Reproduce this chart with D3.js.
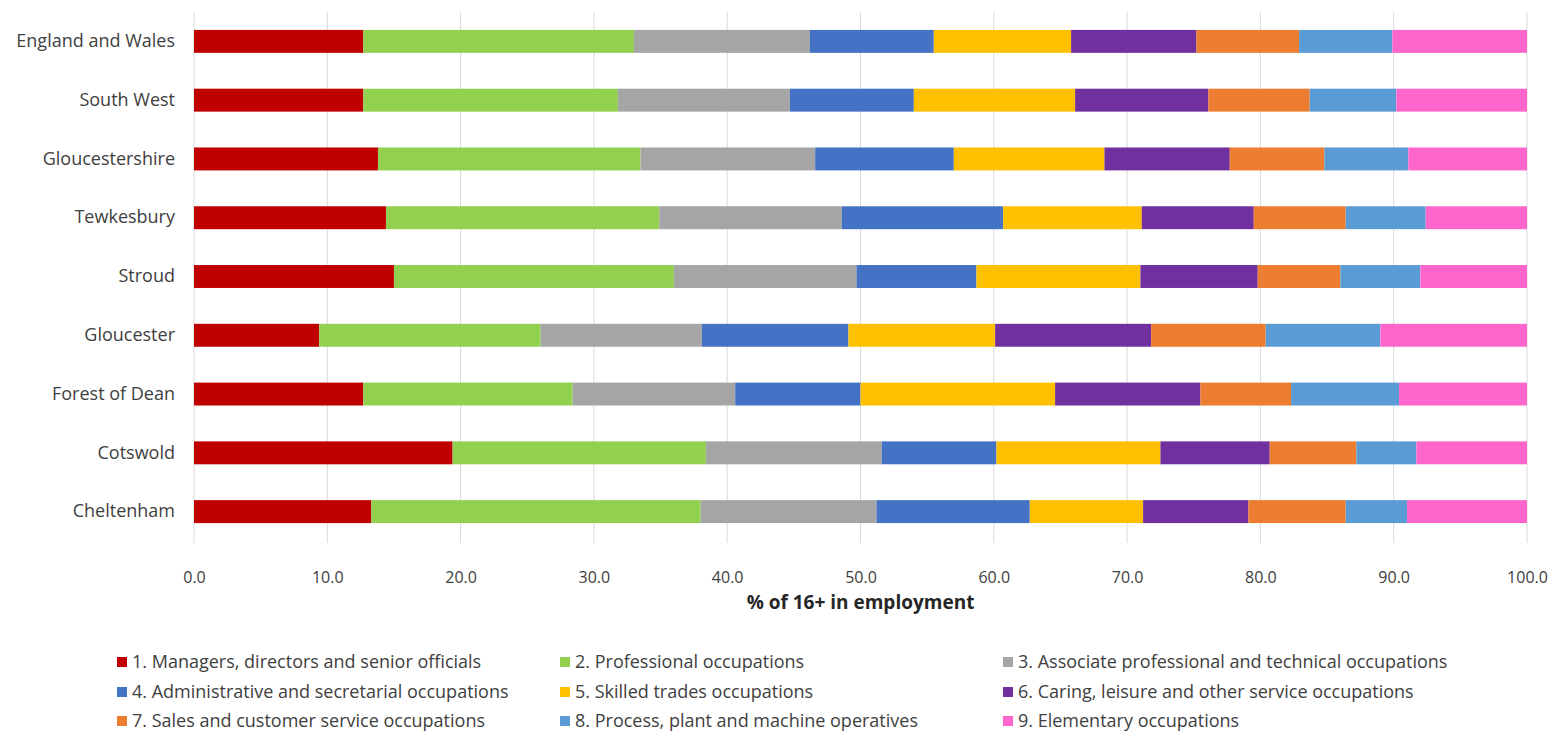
<!DOCTYPE html>
<html>
<head>
<meta charset="utf-8">
<script src="https://cdn.jsdelivr.net/npm/d3@7"></script>
<style>
  html, body { margin: 0; padding: 0; background: #fff; }
  svg { display: block; }
  text { font-family: "Open Sans", "Liberation Sans", sans-serif; }
</style>
</head>
<body>
<svg id="chart" width="1558" height="751"></svg>
<script>
const categories = ["England and Wales", "South West", "Gloucestershire", "Tewkesbury", "Stroud", "Gloucester", "Forest of Dean", "Cotswold", "Cheltenham"];
const seriesNames = [
  "1. Managers, directors and senior officials",
  "2. Professional occupations",
  "3. Associate professional and technical occupations",
  "4. Administrative and secretarial occupations",
  "5. Skilled trades occupations",
  "6. Caring, leisure and other service occupations",
  "7. Sales and customer service occupations",
  "8. Process, plant and machine operatives",
  "9. Elementary occupations"
];
const seriesColors = ["#C00000", "#92D050", "#A5A5A5", "#4472C4", "#FFC000", "#7030A0", "#ED7D31", "#5B9BD5", "#FF66CC"];
// values per category, in series order
const managers      = [12.7, 12.7, 13.8, 14.4, 15.0,  9.4, 12.7, 19.4, 13.3];
const professional  = [20.3, 19.1, 19.7, 20.5, 21.0, 16.6, 15.7, 19.0, 24.7];
const associate     = [13.2, 12.9, 13.1, 13.7, 13.7, 12.1, 12.2, 13.2, 13.2];
const administrative= [ 9.3,  9.3, 10.4, 12.1,  9.0, 11.0,  9.4,  8.6, 11.5];
const skilled       = [10.3, 12.1, 11.3, 10.4, 12.3, 11.0, 14.6, 12.3,  8.5];
const caring        = [ 9.4, 10.0,  9.4,  8.4,  8.8, 11.7, 10.9,  8.2,  7.9];
const sales         = [ 7.7,  7.6,  7.1,  6.9,  6.2,  8.6,  6.8,  6.5,  7.3];
const process       = [ 7.0,  6.5,  6.3,  6.0,  6.0,  8.6,  8.1,  4.5,  4.6];
const elementary    = [10.1,  9.8,  8.9,  7.6,  8.0, 11.0,  9.6,  8.3,  9.0];
const xTicks = [0, 10, 20, 30, 40, 50, 60, 70, 80, 90, 100];
const xTitle = "% of 16+ in employment";

const seriesValues = [managers, professional, associate, administrative, skilled, caring, sales, process, elementary];
const rows = categories.map((c, i) => {
  const r = { category: c };
  seriesNames.forEach((s, j) => { r[s] = seriesValues[j][i]; });
  return r;
});

const svg = d3.select("#chart");
const plotLeft = 194, plotRight = 1527, plotTop = 12, plotBottom = 543;

const x = d3.scaleLinear().domain([0, 100]).range([plotLeft, plotRight]);
const y = d3.scaleBand().domain(categories).range([plotTop, 541]).paddingInner(0.61).paddingOuter(0.305);

// gridlines
svg.append("g").selectAll("line").data(xTicks).join("line")
  .attr("x1", d => x(d)).attr("x2", d => x(d))
  .attr("y1", plotTop).attr("y2", plotBottom)
  .attr("stroke", "#d9d9d9").attr("stroke-width", 1);

const stack = d3.stack().keys(seriesNames)(rows);
svg.append("g").selectAll("g").data(stack).join("g")
  .attr("fill", (d, i) => seriesColors[i])
  .selectAll("rect").data(d => d).join("rect")
  .attr("x", d => x(d[0]))
  .attr("width", d => x(d[1]) - x(d[0]))
  .attr("y", d => y(d.data.category))
  .attr("height", y.bandwidth());

// x axis labels
const xAxis = d3.axisBottom(x).tickValues(xTicks).tickFormat(d3.format(".1f")).tickSize(0).tickPadding(0);
const gx = svg.append("g").attr("transform", `translate(0, ${plotBottom + 34})`).call(xAxis);
gx.select(".domain").remove();
gx.selectAll("text").attr("font-size", 16).attr("fill", "#404040")
  .style("font-family", '"Open Sans", sans-serif').attr("dy", "0.35em").attr("y", 0);

// y axis labels
const yAxis = d3.axisLeft(y).tickSize(0).tickPadding(0);
const gy = svg.append("g").attr("transform", `translate(${plotLeft - 19}, 0)`).call(yAxis);
gy.select(".domain").remove();
gy.selectAll("text").attr("font-size", 18).attr("fill", "#404040")
  .style("font-family", '"Open Sans", sans-serif');

// axis title
svg.append("text").attr("x", (plotLeft + plotRight) / 2).attr("y", 602).attr("dy", "0.35em")
  .attr("text-anchor", "middle").attr("font-size", 19).attr("font-weight", "bold")
  .attr("fill", "#262626").text(xTitle);

// legend
const legCols = [117, 560, 1003];
const legRows = [662, 692, 721];
const leg = svg.append("g").selectAll("g").data(seriesNames).join("g")
  .attr("transform", (d, i) => `translate(${legCols[i % 3]}, ${legRows[Math.floor(i / 3)]})`);
leg.append("rect").attr("x", 0).attr("y", -5).attr("width", 10).attr("height", 10)
  .attr("fill", (d, i) => seriesColors[i]);
leg.append("text").attr("x", 15).attr("y", 0).attr("dy", "0.35em")
  .attr("font-size", 18).attr("fill", "#404040").text(d => d);
</script>
</body>
</html>
